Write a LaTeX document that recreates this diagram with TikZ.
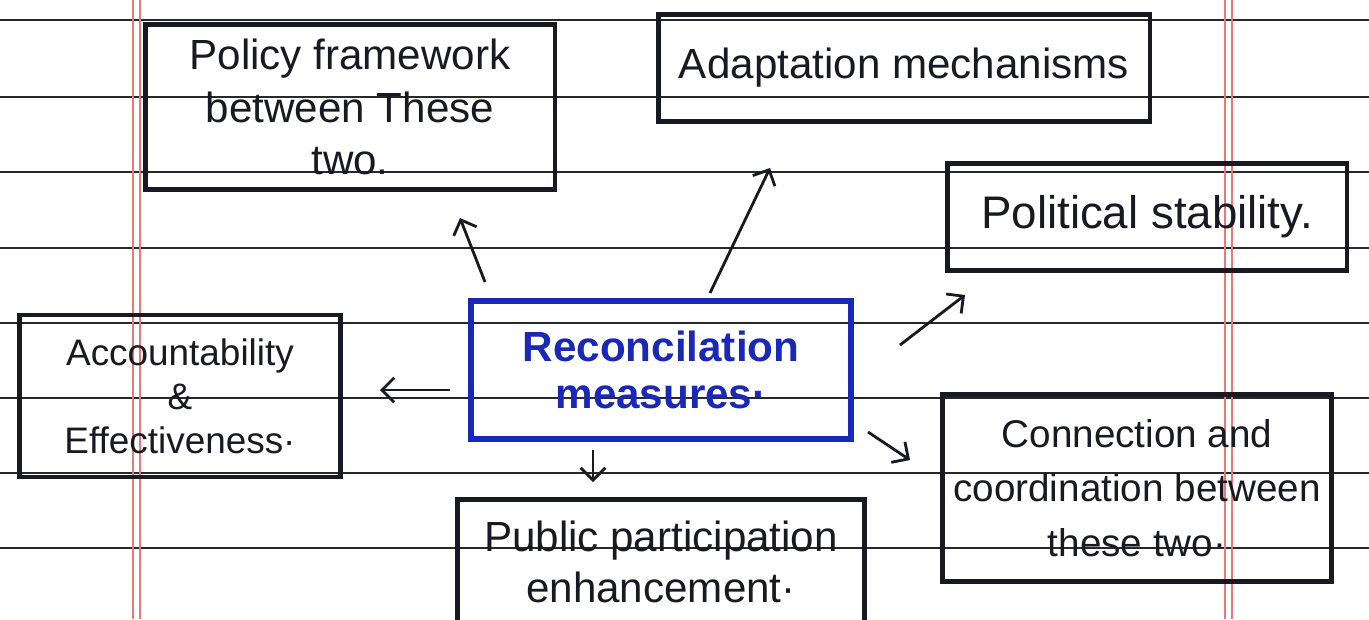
\documentclass[tikz,border=0pt]{standalone}
\usepackage{fontspec}
\setmainfont{Liberation Sans}
\usetikzlibrary{arrows.meta,calc}
\definecolor{ink}{RGB}{25,25,35}
\definecolor{penblue}{RGB}{25,40,185}
\definecolor{ruleink}{RGB}{40,40,40}
\definecolor{marginred}{RGB}{235,120,120}
\begin{document}
\begin{tikzpicture}[x=0.02cm,y=-0.02cm,
  box/.style={draw=ink, line width=2.8pt, align=center, inner sep=0pt, text=ink, font=\fontsize{24}{28}\selectfont},
  arr/.style={draw=ink, line width=1.6pt, -{Straight Barb[length=7pt,width=14pt]}},
  ruleline/.style={draw=ruleink, line width=1.3pt},
  marginline/.style={draw=marginred, line width=0.7pt}]
\fill[white] (0,0) rectangle (1369,619);
\useasboundingbox (0,0) rectangle (1369,619);
\foreach \y in {20,97,172,248,323,398,473,548} \draw[ruleline] (0,\y) -- (1369,\y);
\foreach \x in {133,140,1225,1232} \draw[marginline] (\x,0) -- (\x,619);

\node[box, minimum width=8.2cm, minimum height=3.3cm, font=\fontsize{24}{30}\selectfont] (pol) at (350,107) {Policy framework\\between These\\two.};
\node[box, minimum width=9.84cm, minimum height=2.14cm] (adapt) at (904,68) {Adaptation mechanisms};
\node[box, minimum width=8cm, minimum height=2.14cm, font=\fontsize{26}{30}\selectfont] (polst) at (1147,217) {Political stability.};
\node[box, draw=penblue, line width=3.2pt, text=penblue, minimum width=7.6cm, minimum height=2.76cm, font=\bfseries\fontsize{24}{27}\selectfont] (recon) at (661,370) {Reconcilation\\measures·};
\node[box, minimum width=6.42cm, minimum height=3.24cm, font=\fontsize{21}{25}\selectfont] (acc) at (180,396) {Accountability\\\&\\Effectiveness·};
\node[box, minimum width=8.14cm, minimum height=2.5cm, font=\fontsize{24}{29}\selectfont] (pub) at (661,562) {Public participation\\enhancement·};
\node[box, minimum width=7.78cm, minimum height=3.74cm, font=\fontsize{22}{31}\selectfont] (conn) at (1137,488) {Connection and\\coordination between\\these two·};

\coordinate (s1) at (485,282); \coordinate (e1) at (460,218);
\coordinate (s2) at (710,293); \coordinate (e2) at (770,168);
\coordinate (s3) at (900,345); \coordinate (e3) at (965,295);
\coordinate (s4) at (450,390); \coordinate (e4) at (380,390);
\coordinate (s5) at (593,450); \coordinate (e5) at (593,482);
\coordinate (s6) at (868,432); \coordinate (e6) at (910,460);
\draw[arr] (s1) -- (e1);
\draw[arr] (s2) -- (e2);
\draw[arr] (s3) -- (e3);
\draw[arr] (s4) -- (e4);
\draw[arr] (s5) -- (e5);
\draw[arr] (s6) -- (e6);
\end{tikzpicture}
\end{document}
